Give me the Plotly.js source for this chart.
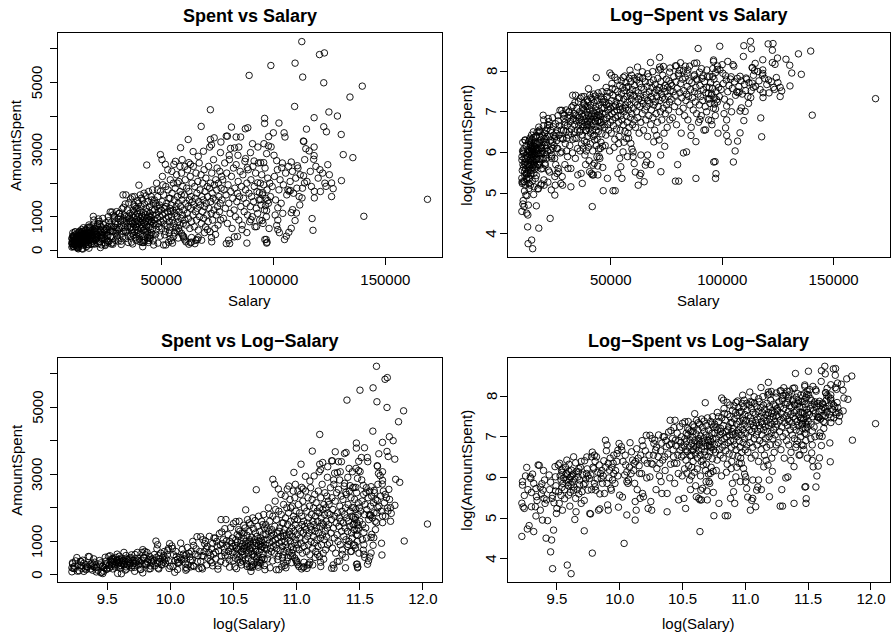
<!DOCTYPE html>
<html>
<head>
<meta charset="utf-8">
<script src="https://cdn.plot.ly/plotly-3.0.1.min.js"></script>
<style>
  html, body { margin: 0; padding: 0; background: #fff; }
  #chart { width: 892px; height: 635px; }
</style>
</head>
<body>
<div id="chart"></div>
<script>
// Direct-marketing customers: annual salary and amount spent (same customers in every panel)
const salary = [
  // 10k - 13.4k
  10100,10150,10150,10100,10200,10300,10500,10550,10700,10800,10850,10900,11100,11250,11300,11500,11600,11300,11350,11700,
  11850,11700,11900,11950,12050,12150,12300,12250,12400,12550,12700,12800,12900,13000,12850,13050,13150,13200,13250,13300,
  13350,10300,10600,10900,11100,11400,11800,12100,12600,12900,13200,10400,11000,12000,12700,
  // 13.4k - 17.2k
  13500,13550,13600,13650,13800,13850,13900,13950,14450,14400,14500,14600,14650,14800,14950,15000,15050,14950,15250,15250,
  15400,15550,15500,15850,15900,16000,16200,16300,16600,16650,16900,16950,17100,16700,
  13700,13900,14000,14100,14200,14300,14350,14500,14600,14700,14750,14850,14900,15100,15200,15300,15400,15600,15700,15800,
  16000,16100,16400,16500,16800,17000,13800,14200,14700,15500,16200,14000,15900,16600,17100,
  // 17.2k - 22k
  17300,17350,17450,17700,17600,17700,17900,18000,18100,18200,18300,18600,18800,18900,19000,19200,19650,19900,20100,20000,
  20100,20300,20600,20900,21000,21550,21700,21900,21800,22000,21200,19900,19500,
  17500,17800,18100,18400,18500,18700,19100,19300,19400,19700,20200,20400,20700,20800,21000,21300,21500,21700,18000,19800,
  17600,18800,20500,
  // 22k - 28.5k
  22300,22400,22800,23100,23300,23300,23500,23300,23600,24100,24400,24700,25000,24900,24900,25100,25800,25900,26200,26400,
  26600,27200,27400,27600,28000,28000,28200,28300,28400,28500,
  22600,23000,23800,24200,24600,25200,25500,25700,26000,26500,26800,27000,27800,23900,26300,22900,24800,27300,25300,22500,
  // 28.5k - 36.3k
  28900,29100,29300,29600,29900,30300,30600,30800,31100,31400,31500,31900,32100,32100,32500,32900,33100,33300,33800,34000,
  34200,34300,34700,35100,35200,35500,35600,36000,36000,36200,36300,
  28800,29500,30000,30500,31000,31800,32300,32700,33000,33500,33700,34500,34800,35000,35800,30200,32800,34100,29400,31600,
  33900,35300,36100,28600,30800,
  // 36.3k - 46.6k
  37000,36700,37200,37800,38200,39000,39500,40000,40500,41300,41700,41700,42000,42200,43500,43800,44200,44800,45300,46600,
  36500,36800,37000,37300,37500,37700,37900,38100,38300,38500,38600,38800,39000,39200,39300,39500,39700,39800,40000,40200,
  40400,40500,40700,40900,41000,41200,41300,41500,41600,41800,42000,42200,42400,42500,42700,42900,43000,43200,43300,43500,
  43700,43900,44000,44200,44400,44500,44700,44900,45000,45200,45400,45500,45700,45900,46000,46200,46400,46500,
  36900,37600,38400,39100,39900,40800,41900,42800,43600,44600,45600,46300,38000,40600,42300,44300,46100,39400,41100,43100,
  45800,37400,38700,40300,42600,44100,45100,46400,39600,41400,43400,45300,37200,38900,42100,44800,
  // 46.6k - 60k
  49600,51800,55600,58600,48500,51000,52000,53200,53500,54000,54500,55000,55500,57000,57500,58000,59500,59000,
  46800,47000,47200,47400,47600,47800,48000,48200,48400,48600,48800,49000,49200,49400,49600,49800,50000,50200,50400,50600,
  50800,51000,51200,51400,51600,51800,52000,52200,52400,52600,52800,53000,53200,53400,53600,53800,54000,54200,54400,54600,
  54800,55000,55200,55400,55600,55800,56000,56200,56400,56600,56800,57000,57200,57400,57600,57800,58000,58200,58400,58600,
  58800,59000,59200,59400,59600,59800,
  47500,49500,51500,53700,55900,57700,47900,50500,52900,54700,56300,58300,48300,50700,53900,57100,49100,52100,54300,56700,
  58900,46900,50300,59300,
  // 60k - 77k
  60000,60000,60500,62300,63500,63500,65000,65500,66500,
  71900,67800,62000,71900,73600,76600,64200,68800,66500,71600,72400,76400,62300,63000,60500,
  72400,74200,69300,70600,66100,63000,72500,61000,68000,
  60100,60300,60500,60700,60900,61100,61300,61500,61700,61900,62100,62300,62500,62700,62900,63100,63300,63500,63700,63900,
  64100,64300,64500,64700,64900,65100,65300,65500,65700,65900,66100,66300,66500,66700,66900,67100,67300,67500,67700,67900,
  68100,68300,68500,68700,68900,69100,69300,69500,69700,69900,70100,70300,70500,70700,70900,71100,71300,71500,71700,71900,
  72100,72300,72500,72700,72900,73100,73300,73500,73700,73900,74100,74300,74500,74700,74900,75100,75300,75500,75700,75900,
  76100,76300,76500,76700,76900,
  // 77k - 99k
  79000,80500,80000,88200,88200,96800,97000,
  98900,89200,96100,96100,81300,87500,88600,79000,79500,83400,85400,97900,80900,82700,84600,80300,90700,93100,95800,97800,
  99000,89800,97000,84200,87600,94300,95700,91400,88400,
  96200,97200,95300,96500,97000,97500,93000,93800,94300,90000,92500,95000,86000,84000,82600,
  77100,77400,77700,78000,78300,78600,78900,79200,79500,79800,80100,80400,80700,81000,81300,81600,81900,82200,82500,82800,
  83100,83400,83700,84000,84300,84600,84900,85200,85500,85800,86100,86400,86700,87000,87300,87600,87900,88200,88500,88800,
  89100,89400,89700,90000,90300,90600,90900,91200,91500,91800,92100,92400,92700,93000,93300,93600,93900,94200,94500,94800,
  95100,95400,95700,96000,96300,96600,96900,97200,97500,97800,98100,98400,98700,
  // 99k - 127k
  112700,120600,122800,109700,113100,122500,109500,118200,124800,102500,114800,122500,123700,100000,104800,105200,113400,113600,118200,124300,
  114500,116000,118200,118000,108000,110700,101500,103700,100300,
  123500,126000,126700,120800,117300,117700,118300,118300,112800,113900,113500,109700,110300,108000,106900,105800,105000,108600,108000,106500,
  107000,107600,102000,102700,102000,102000,101500,
  99500,100500,101000,101800,102500,103000,103500,104000,104500,105500,106000,106800,107500,108500,109000,110000,110500,111000,111500,112000,
  113000,114000,115000,116500,117000,119000,120000,121000,122000,123000,125000,126000,104200,100800,111800,
  // above 127k
  128600,130300,131200,135500,134200,139700,130400,140400,168800
];

const spent = [
  // 10k - 13.4k
  95,365,335,215,196,189,518,114,124,410,395,197,107,197,157,550,545,308,252,320,
  347,181,142,296,242,214,233,91,140,430,65,87,43,111,242,217,528,411,330,167,
  189,260,300,280,350,230,270,380,300,260,290,420,440,480,360,
  // 13.4k - 17.2k
  550,285,214,573,380,483,317,181,620,446,47,358,262,200,38,483,428,337,672,296,
  144,174,242,464,503,337,214,285,109,610,446,670,296,350,
  420,460,350,400,300,520,380,430,330,470,390,280,410,360,440,320,390,470,300,410,
  380,520,430,340,390,500,260,240,560,580,600,500,270,230,420,
  // 17.2k - 22k
  395,167,165,754,672,63,503,350,322,296,672,181,187,446,395,350,1010,900,573,206,
  181,483,296,573,446,727,790,933,195,262,350,350,273,
  430,520,600,390,460,550,480,420,610,520,400,650,520,380,700,480,600,420,700,780,
  300,270,310,
  // 22k - 28.5k
  863,790,80,550,464,365,350,161,380,446,620,573,600,224,142,181,446,242,446,273,
  252,1140,573,189,1140,410,224,573,181,1050,
  600,700,520,760,480,820,650,540,700,880,620,780,700,950,1000,430,350,400,300,250,
  // 28.5k - 36.3k
  933,1010,790,503,672,573,365,273,1100,1100,672,863,273,174,1235,1650,1280,933,672,573,
  1650,1010,573,446,233,1410,790,1100,672,420,1530,
  700,850,1150,780,620,1000,720,900,560,1050,800,880,1200,700,950,420,400,350,300,480,
  1380,1000,850,560,940,
  // 36.3k - 46.6k
  1590,242,189,1350,1300,420,1250,1940,252,242,233,107,296,233,2540,365,233,365,446,158,
  700,880,1050,620,980,760,1150,540,850,1020,690,1250,930,780,1100,600,870,1400,1000,720,
  1180,850,940,650,1300,780,1050,900,1500,700,1120,820,980,1380,620,1050,870,1250,760,950,
  1150,560,1450,880,1020,680,1300,900,1100,760,1600,980,850,1200,640,1050,1400,800,
  500,450,380,520,460,500,420,550,480,440,520,470,1600,1650,1700,1750,1800,1480,1550,1620,
  1500,1200,300,330,310,290,350,280,800,1000,700,850,800,700,600,1000,
  // 46.6k - 60k
  2850,2560,2560,3055,214,158,158,242,503,350,285,214,410,573,365,573,440,505,
  900,1200,750,1400,1050,620,1300,950,1600,800,1150,700,1350,1000,1750,850,1200,650,1450,1050,
  900,1650,780,1250,1100,560,1900,950,1400,720,1150,1800,1000,1550,850,1250,2100,700,1350,1000,
  1700,900,1200,2000,800,1500,1100,1850,680,1300,2250,1000,1600,850,1400,2050,1150,750,1750,1300,
  950,2300,1500,1050,1900,800,
  480,420,460,600,520,650,2000,2200,2400,2350,2650,2500,1800,1950,1550,2000,1250,1300,1150,1200,
  1650,1500,2700,2700,
  // 60k - 77k
  410,365,308,181,380,242,197,296,380,
  4187,3690,3300,3300,3350,3225,2940,2950,2800,3075,3140,2910,2610,2560,2500,
  380,470,525,615,320,230,252,250,300,
  1200,1650,900,2100,1400,750,1850,1100,2400,1300,950,1750,1500,650,2200,1250,1600,850,2000,1450,
  1050,2500,1350,700,1900,1550,1150,2300,900,1700,1250,2050,600,1450,2600,1000,1800,1350,2250,800,
  1600,1150,2000,1500,950,2400,1300,1750,700,2150,1400,1050,1900,1600,850,2500,1250,1850,550,2000,
  1450,1100,2300,1700,900,1550,2700,1200,1950,650,1500,2100,1050,1800,2450,1300,750,2000,1600,1150,
  2350,1400,900,1850,2200,
  // 77k - 99k
  200,200,300,214,528,323,214,
  5505,5210,3930,3780,3670,3620,3650,3400,3400,3375,3375,3385,3035,3050,3075,2830,3175,3075,3175,3110,
  3080,2910,2880,2830,2730,2610,2610,2660,2460,
  320,240,1715,1330,1180,1480,2010,1720,1510,910,705,885,615,410,400,
  1500,2100,950,1800,2600,1250,1650,2300,800,1950,1400,2700,1100,1750,2200,650,1550,2450,1200,1850,
  1000,2550,1450,1700,2050,900,1600,2350,1300,1900,750,2250,1550,1150,2650,1800,1400,2000,1050,2400,
  1700,850,1300,2100,1600,1000,2500,1450,1900,700,2300,1250,1750,1100,2600,1500,900,2000,1350,2250,
  1650,800,1950,1200,2450,1550,1000,1800,2150,1400,650,2000,1600,
  // 99k - 127k
  6217,5830,5880,5575,5160,4990,4285,3950,4120,3790,3610,3680,3530,3500,3500,3375,3255,3240,3075,2550,
  3025,2960,2820,2710,2630,2520,2670,2460,2830,
  1905,2005,1835,2400,945,595,1560,1755,1560,2005,2220,885,1110,655,535,420,320,1210,1120,1800,
  1760,1780,615,525,1265,900,740,
  1900,2200,1500,2400,1800,2100,1400,2600,1950,2300,1650,2500,2050,2350,1700,2150,1850,2450,1600,2250,
  1850,2700,2050,2350,1900,2500,2150,1750,2300,2000,2250,1600,1100,1050,1350,
  // above 127k
  4000,3450,2850,2760,4565,4890,2075,1012,1518
];

// panel titles and axis labels
const panelTitles = ['Spent vs Salary', 'Log\u2212Spent vs Salary', 'Spent vs Log\u2212Salary', 'Log\u2212Spent vs Log\u2212Salary'];
const xLabels = ['Salary', 'Salary', 'log(Salary)', 'log(Salary)'];
const yLabels = ['AmountSpent', 'log(AmountSpent)', 'AmountSpent', 'log(AmountSpent)'];

// tick positions and labels
const salaryTicks = [50000, 100000, 150000];
const spentTicks = [0, 1000, 2000, 3000, 4000, 5000, 6000];
const spentTickText = ['0', '1000', '', '3000', '', '5000', ''];
const logSpentTicks = [4, 5, 6, 7, 8];
const logSpentTickText = ['4', '5', '6', '7', '8'];
const logSalaryTicks = [9.5, 10.0, 10.5, 11.0, 11.5, 12.0];
const logSalaryTickText = ['9.5', '10.0', '10.5', '11.0', '11.5', '12.0'];

const logSalary = salary.map(Math.log);
const logSpent = spent.map(Math.log);

// axis range padded by 4% on each side
function padRange(v) {
  let lo = Infinity, hi = -Infinity;
  for (const a of v) { if (a < lo) lo = a; if (a > hi) hi = a; }
  const d = (hi - lo) * 0.04;
  return [lo - d, hi + d];
}

const FONT = 'Liberation Sans, Arial, Helvetica, sans-serif';
const W = 892, H = 635;

// plot boxes in pixels: [left, right, top, bottom]
const boxes = [
  [57.7, 441.7, 33.3, 257.3],
  [507.7, 889.7, 33.0, 257.0],
  [57.7, 441.7, 358.0, 582.0],
  [507.7, 889.7, 358.0, 582.0]
];
// per-panel text offsets (px): x tick-label standoff, x-label below box, y tick-label left of box
const xTickStandoff = [2, 2, -4, -4];
const xLabelGap = [43.5, 43.5, 41, 41];
const yTickGap = [21, 17, 21, 17];

const marker = { symbol: 'circle-open', size: 6.5, color: '#000', line: { width: 0.9, color: '#000' } };

const data = [
  { x: salary, y: spent, xaxis: 'x', yaxis: 'y' },
  { x: salary, y: logSpent, xaxis: 'x2', yaxis: 'y2' },
  { x: logSalary, y: spent, xaxis: 'x3', yaxis: 'y3' },
  { x: logSalary, y: logSpent, xaxis: 'x4', yaxis: 'y4' }
].map(t => Object.assign(t, { type: 'scatter', mode: 'markers', marker: marker, hoverinfo: 'skip' }));

function baseAxis() {
  return {
    showgrid: false, zeroline: false, showline: true, mirror: true,
    linecolor: '#000', linewidth: 1,
    ticks: 'outside', ticklen: 7, tickwidth: 1, tickcolor: '#000',
    tickfont: { family: FONT, size: 15, color: '#000' },
    fixedrange: true
  };
}

const layout = {
  width: W, height: H,
  margin: { l: 0, r: 0, t: 0, b: 0 },
  paper_bgcolor: '#fff', plot_bgcolor: '#fff',
  showlegend: false,
  font: { family: FONT, size: 15, color: '#000' },
  annotations: []
};

const xRanges = [padRange(salary), padRange(salary), padRange(logSalary), padRange(logSalary)];
const yRanges = [padRange(spent), padRange(logSpent), padRange(spent), padRange(logSpent)];

for (let i = 0; i < 4; i++) {
  const [l, r, t, b] = boxes[i];
  const sfx = i === 0 ? '' : String(i + 1);
  const xa = baseAxis(), ya = baseAxis();
  xa.domain = [l / W, r / W];
  xa.range = xRanges[i];
  xa.anchor = 'y' + sfx;
  xa.ticklabelstandoff = xTickStandoff[i];
  if (i < 2) {
    xa.tickvals = salaryTicks;
    xa.ticktext = salaryTicks.map(String);
  } else {
    xa.tickvals = logSalaryTicks;
    xa.ticktext = logSalaryTickText;
  }

  // y tick labels run parallel to the axis; they are written next to each tick
  ya.domain = [1 - b / H, 1 - t / H];
  ya.range = yRanges[i];
  ya.anchor = 'x' + sfx;
  ya.showticklabels = false;
  const yVals = i % 2 === 0 ? spentTicks : logSpentTicks;
  const yText = i % 2 === 0 ? spentTickText : logSpentTickText;
  ya.tickvals = yVals;
  layout['xaxis' + sfx] = xa;
  layout['yaxis' + sfx] = ya;

  yVals.forEach((v, k) => {
    if (!yText[k]) return;
    layout.annotations.push({
      text: yText[k], xref: 'paper', yref: 'y' + sfx, x: (l - yTickGap[i]) / W, y: v,
      textangle: -90, xanchor: 'center', yanchor: 'middle', showarrow: false,
      font: { family: FONT, size: 15, color: '#000' }
    });
  });

  const cx = (l + r) / 2 / W;
  const cy = 1 - (t + b) / 2 / H;
  layout.annotations.push(
    { text: '<b>' + panelTitles[i] + '</b>', xref: 'paper', yref: 'paper', x: cx, y: 1 - (t - 17.5) / H,
      xanchor: 'center', yanchor: 'middle', showarrow: false, font: { family: FONT, size: 18, color: '#000' } },
    { text: xLabels[i], xref: 'paper', yref: 'paper', x: cx, y: 1 - (b + xLabelGap[i]) / H,
      xanchor: 'center', yanchor: 'middle', showarrow: false, font: { family: FONT, size: 15, color: '#000' } },
    { text: yLabels[i], xref: 'paper', yref: 'paper', x: (l - 42) / W, y: cy, textangle: -90,
      xanchor: 'center', yanchor: 'middle', showarrow: false, font: { family: FONT, size: 15, color: '#000' } }
  );
}

Plotly.newPlot('chart', data, layout, { staticPlot: true, displayModeBar: false });
</script>
</body>
</html>
